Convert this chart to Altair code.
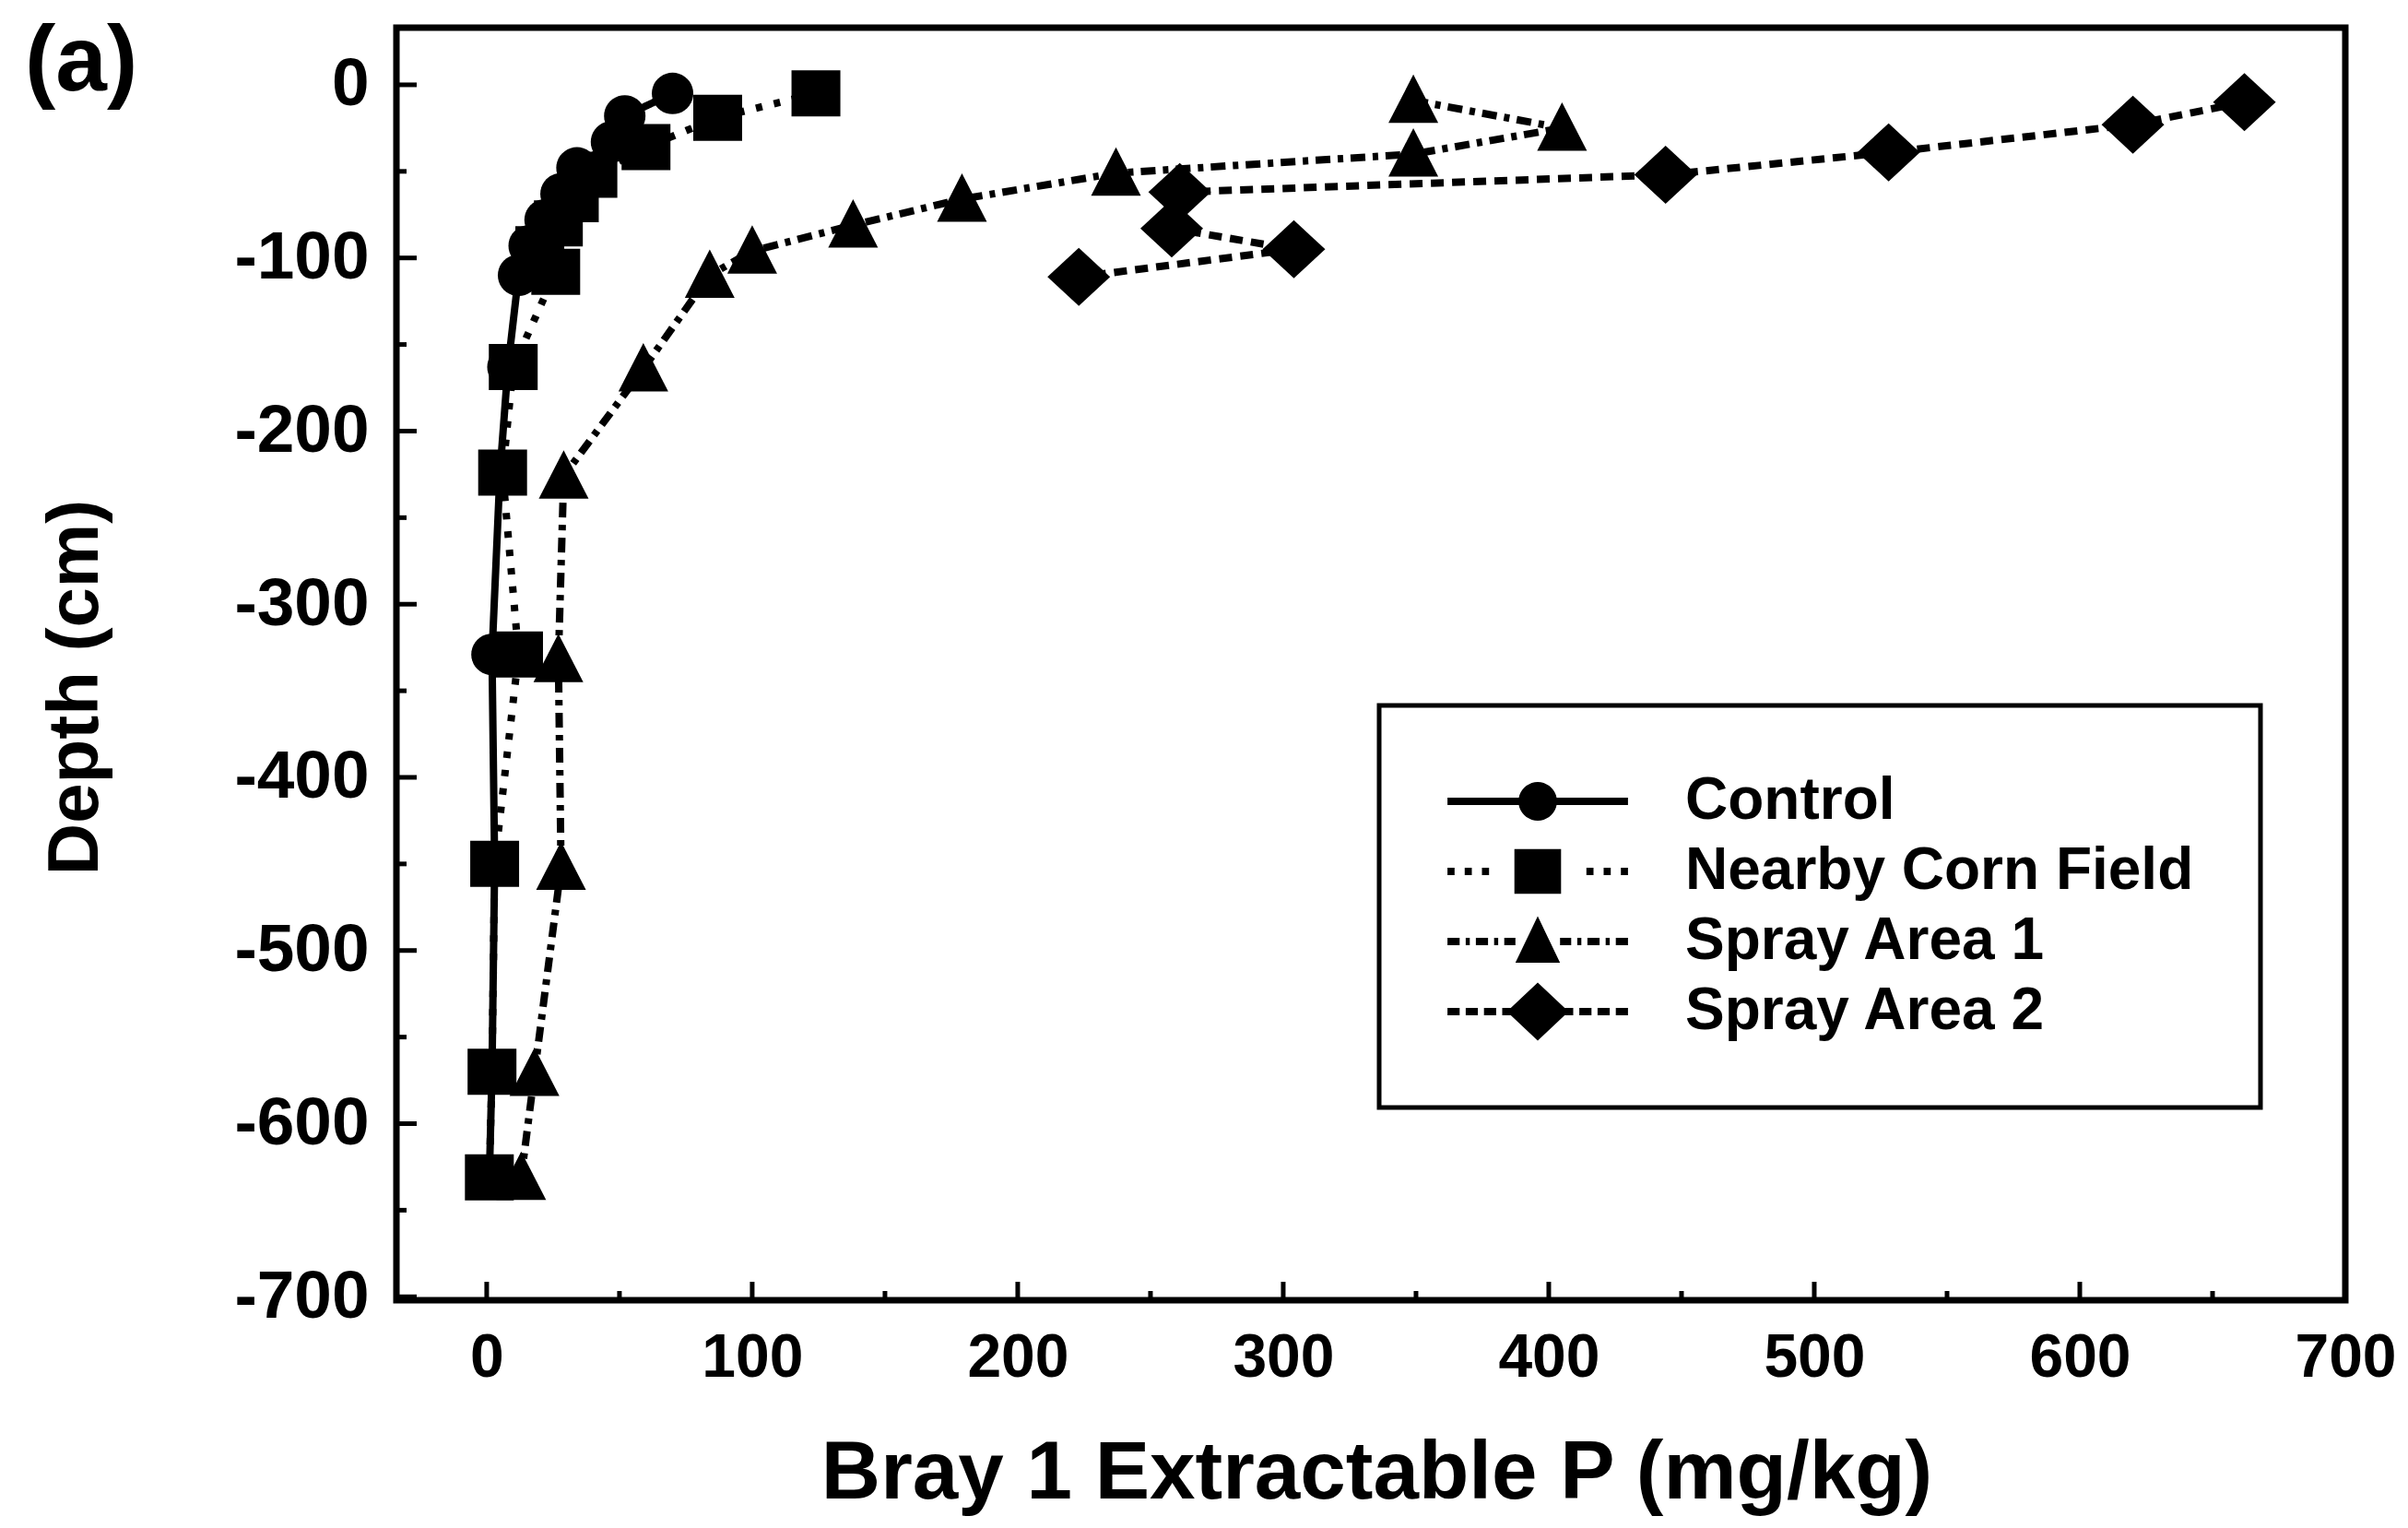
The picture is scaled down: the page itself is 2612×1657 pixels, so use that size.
import altair as alt
import pandas as pd
import numpy as np

# ---------------- data ----------------
series_names = ["Control", "Nearby Corn Field", "Spray Area 1", "Spray Area 2"]

control_p = [70, 52, 47, 34, 28, 22, 16, 12, 8, 5, 2, 3, 2, 1]
control_depth = [-5, -18, -33, -48, -63, -78, -93, -110, -163, -224, -329, -450, -570, -631]

corn_p = [124, 87, 60, 40, 33, 27, 20, 26, 10, 6, 12, 3, 2, 1]
corn_depth = [-5, -19, -36, -52, -66, -80, -95, -108, -163, -224, -329, -450, -570, -631]

spray1_p = [349, 405, 349, 237, 179, 138, 100, 84, 59, 29, 27, 28, 18, 13]
spray1_depth = [-9, -25, -40, -51, -66, -81, -96, -110, -164, -226, -332, -452, -571, -631]

spray2_p = [662, 620, 528, 444, 261, 258, 304, 223]
spray2_depth = [-10, -23, -39, -52, -62, -83, -95, -111]

x_tick_labels = [0, 100, 200, 300, 400, 500, 600, 700]
y_tick_labels = [0, -100, -200, -300, -400, -500, -600, -700]
x_minor_ticks = [50, 150, 250, 350, 450, 550, 650]
y_minor_ticks = [-50, -150, -250, -350, -450, -550, -650]

# ---------------- layout / style ----------------
W, H = 2114, 1380
X_MIN, X_MAX = -34, 700
Y_MIN, Y_MAX = -702, 33
REG = "Liberation Sans"


def poly(points):
    return "M" + " L".join(f"{x:.3f},{y:.3f}" for x, y in points) + " Z"


def circle_path(r, n=40):
    return poly([(r * np.cos(2 * np.pi * i / n), r * np.sin(2 * np.pi * i / n)) for i in range(n)])


def bar(x0, x1, h):
    return poly([(x0, -h), (x1, -h), (x1, h), (x0, h)])


def mirrored(segs, h):
    out = []
    for a, b in segs:
        out.append(bar(a, b, h))
        out.append(bar(-b, -a, h))
    return " ".join(out)


# data markers (unit = sqrt(size)/2 = 25 px)
marker_paths = [
    circle_path(0.9),
    poly([(-1.06, -1.0), (1.06, -1.0), (1.06, 1.0), (-1.06, 1.0)]),
    poly([(0, -1.12), (1.08, 0.98), (-1.08, 0.98)]),
    poly([(0, -1.26), (1.36, 0), (0, 1.26), (-1.36, 0)]),
]

# legend symbols (unit = 22 px): line pieces + marker
LH = 0.18
legend_paths = [
    bar(-4.45, 4.45, LH) + " " + circle_path(0.95),
    mirrored([(-4.45, -4.1), (-3.6, -3.25), (-2.75, -2.4)], LH) + " " +
    poly([(-1.15, -1.1), (1.15, -1.1), (1.15, 1.1), (-1.15, 1.1)]),
    mirrored([(-4.45, -3.85), (-3.55, -3.35), (-3.05, -2.45), (-2.15, -1.95), (-1.65, -1.1)], LH) + " " +
    poly([(0, -1.25), (1.1, 1.05), (-1.1, 1.05)]),
    mirrored([(-4.45, -3.85), (-3.55, -2.95), (-2.65, -2.05), (-1.75, -1.3)], LH) + " " +
    poly([(0, -1.43), (1.52, 0), (0, 1.43), (-1.52, 0)]),
]

dash_styles = [[1, 0], [7, 13], [16, 8, 6, 8], [14, 9]]

# ---------------- tables ----------------
rows = []
for name, ps, ds in zip(series_names,
                        [control_p, corn_p, spray1_p, spray2_p],
                        [control_depth, corn_depth, spray1_depth, spray2_depth]):
    for i, (p, d) in enumerate(zip(ps, ds)):
        rows.append({"series": name, "p": p, "depth": d, "idx": i})
df = pd.DataFrame(rows)

xt_major = pd.DataFrame({"p": x_tick_labels})
xt_minor = pd.DataFrame({"p": x_minor_ticks})
yt_major = pd.DataFrame({"depth": y_tick_labels})
yt_minor = pd.DataFrame({"depth": y_minor_ticks})

xscale = alt.Scale(domain=[X_MIN, X_MAX], nice=False, zero=False)
yscale = alt.Scale(domain=[Y_MIN, Y_MAX], nice=False, zero=False)

xaxis = alt.Axis(
    values=x_tick_labels, title="Bray 1 Extractable P (mg/kg)",
    labelExpr="'' + datum.value", labelFont=REG, labelFontSize=66,
    labelFontWeight="bold", labelColor="black", labelPadding=30,
    labelFlush=False, labelOverlap=False, labelBound=False,
    ticks=False, domain=False, grid=False,
    titleFont=REG, titleFontSize=89, titleFontWeight="bold", titleColor="black",
    titleX=1063, titleY=214, titleAlign="center", titleBaseline="alphabetic",
)
yaxis = alt.Axis(
    values=y_tick_labels, title="Depth (cm)",
    labelExpr="'' + datum.value", labelFont=REG, labelFontSize=73,
    labelFontWeight="bold", labelColor="black", labelPadding=30,
    labelFlush=False, labelOverlap=False, labelBound=False,
    ticks=False, domain=False, grid=False,
    titleFont=REG, titleFontSize=78, titleFontWeight="bold", titleColor="black",
    titleX=-325, titleY=715, titleAngle=270, titleAlign="center", titleBaseline="alphabetic",
)


def X():
    return alt.X("p:Q", scale=xscale, axis=xaxis)


def Y():
    return alt.Y("depth:Q", scale=yscale, axis=yaxis)


x_major_rules = alt.Chart(xt_major).mark_rule(color="black", strokeWidth=5).encode(
    x=X(), y=alt.value(H), y2=alt.value(H - 20))
x_minor_rules = alt.Chart(xt_minor).mark_rule(color="black", strokeWidth=5).encode(
    x=X(), y=alt.value(H), y2=alt.value(H - 10))
y_major_rules = alt.Chart(yt_major).mark_rule(color="black", strokeWidth=5).encode(
    y=Y(), x=alt.value(0), x2=alt.value(22))
y_minor_rules = alt.Chart(yt_minor).mark_rule(color="black", strokeWidth=5).encode(
    y=Y(), x=alt.value(0), x2=alt.value(11))

base = alt.Chart(df)

lines = base.mark_line(color="black", strokeWidth=8).encode(
    x=X(), y=Y(), order="idx:Q", detail="series:N",
    strokeDash=alt.StrokeDash("series:N", scale=alt.Scale(domain=series_names, range=dash_styles), legend=None),
)

points = base.mark_point(filled=True, size=2500, opacity=1, color="black", strokeWidth=0).encode(
    x=X(), y=Y(),
    shape=alt.Shape("series:N", scale=alt.Scale(domain=series_names, range=marker_paths), legend=None),
)

legend_layer = base.transform_filter("false").mark_point(
    filled=True, size=1936, opacity=1, color="black", strokeWidth=0
).encode(
    x=X(), y=Y(),
    shape=alt.Shape(
        "series:N",
        scale=alt.Scale(domain=series_names, range=legend_paths),
        legend=alt.Legend(
            title=None, orient="none", legendX=1066, legendY=735,
            padding=72, symbolOffset=68, labelOffset=128, rowPadding=12,
            symbolSize=1936, symbolFillColor="black", symbolStrokeColor="black",
            symbolStrokeWidth=0, symbolOpacity=1,
            labelFont=REG, labelFontSize=64, labelFontWeight="bold", labelColor="black",
            labelLimit=1500, strokeColor="black",
        ),
    ),
)

chart = alt.layer(
    x_major_rules, x_minor_rules, y_major_rules, y_minor_rules, lines, points, legend_layer
).resolve_scale(shape="independent").properties(
    width=W, height=H,
    autosize=alt.AutoSizeParams(type="none"),
    padding={"left": 422, "top": 22, "right": 60, "bottom": 247},
    title=alt.TitleParams("(a)", anchor="start", frame="group", font=REG, fontSize=100,
                          fontWeight="bold", color="black", dx=-403, dy=168, offset=0,
                          baseline="alphabetic"),
    background="white",
).configure_view(stroke="black", strokeWidth=7).configure_legend(strokeWidth=5)

chart.save("out.html", embed_options={"renderer": "svg", "actions": False})
